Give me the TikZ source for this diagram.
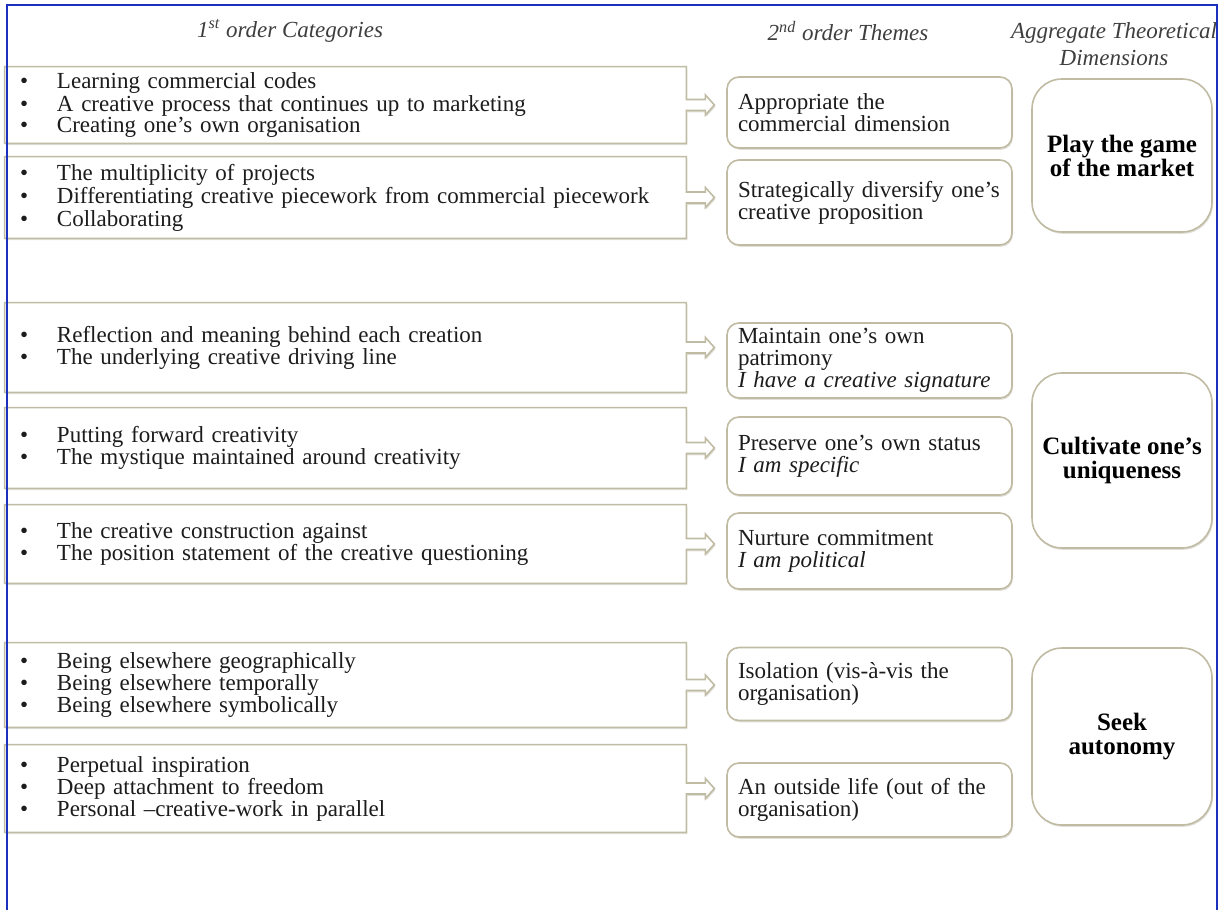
\documentclass[tikz,border=0pt]{standalone}
\usepackage{fontspec}
\setmainfont{Liberation Serif}
\usepackage{tikz}
\usetikzlibrary{calc}
\usetikzlibrary{backgrounds,shadows}
\definecolor{boxline}{RGB}{192,187,163}
\definecolor{frameblue}{RGB}{28,48,190}
\definecolor{inktext}{RGB}{28,28,28}
\tikzstyle{softshadow}=[drop shadow={shadow xshift=0.5pt,shadow yshift=-0.9pt,fill=boxline!80!black,opacity=0.3}]
\tikzstyle{heading}=[font=\itshape\fontsize{11.5}{13.5}\selectfont,text=inktext!85,inner sep=0pt]
\tikzstyle{catbox}=[inner xsep=7.5pt,inner ysep=0pt,text width=325.5pt,minimum width=340.5pt,align=left,font=\fontsize{11.5}{11}\selectfont,text=inktext]
\tikzstyle{catline}=[solid,draw=boxline,fill=white,line width=0.8pt,softshadow]
\tikzstyle{themebox}=[draw=boxline,fill=white,line width=0.8pt,rounded corners=6pt,softshadow,inner xsep=5.5pt,inner ysep=0pt,text width=131.5pt,minimum width=142.5pt,align=left,font=\fontsize{11.5}{11}\selectfont,text=inktext]
\tikzstyle{dimbox}=[draw=boxline,fill=white,line width=0.8pt,rounded corners=15pt,softshadow,inner sep=0pt,minimum width=90pt,align=center,font=\bfseries\fontsize{12.5}{12}\selectfont,text=black]
\tikzstyle{frameline}=[draw=frameblue,line width=1.4pt]
\newcommand{\bul}{\makebox[18.5pt][l]{\textbullet}}
\newcommand{\catoutline}[1]{%
  \path[catline] (#1.south west) -- (#1.north west) -- (#1.north east)
    -- ($(#1.east)+(0,-5.5)$) -- ++(19,0) -- ++(0,-4.5) -- ++(9,10)
    -- ++(-9,10) -- ++(0,-4.5) -- ++(-19,0) -- (#1.south east) -- cycle;}

\begin{document}
\begin{tikzpicture}[x=0.5pt,y=-0.5pt]
	\useasboundingbox (0,0) rectangle (1224,910);
	% column headings
	\node[heading] (h1) at (290,31) {1\textsuperscript{st} order Categories};
	\node[heading] (h2) at (848,31) {2\textsuperscript{nd} order Themes};
	\node[heading,align=center] (h3) at (1114,44) {Aggregate Theoretical\\Dimensions};
	% 1st order categories
	\node[catbox,minimum height=38pt,font=\fontsize{11.5}{10.3}\selectfont] (c1) at (345.5,105) {\bul Learning commercial codes\\\bul A creative process that continues up to marketing\\\bul Creating one's own organisation};
	\node[catbox,minimum height=40.5pt,font=\fontsize{11.5}{10.3}\selectfont] (c2) at (345.5,197.5) {\bul The multiplicity of projects\\\bul Differentiating creative piecework from commercial piecework\\\bul Collaborating};
	\node[catbox,minimum height=44.5pt] (c3) at (345.5,347.5) {\bul Reflection and meaning behind each creation\\\bul The underlying creative driving line};
	\node[catbox,minimum height=40pt] (c4) at (345.5,448) {\bul Putting forward creativity\\\bul The mystique maintained around creativity};
	\node[catbox,minimum height=39pt] (c5) at (345.5,544) {\bul The creative construction against\\\bul The position statement of the creative questioning};
	\node[catbox,minimum height=42pt] (c6) at (345.5,685) {\bul Being elsewhere geographically\\\bul Being elsewhere temporally\\\bul Being elsewhere symbolically};
	\node[catbox,minimum height=43.5pt] (c7) at (345.5,788.5) {\bul Perpetual inspiration\\\bul Deep attachment to freedom\\\bul Personal --creative-work in parallel};
	\begin{scope}[on background layer]
		\catoutline{c1}
		\catoutline{c2}
		\catoutline{c3}
		\catoutline{c4}
		\catoutline{c5}
		\catoutline{c6}
		\catoutline{c7}
	\end{scope}
	% 2nd order themes
	\node[themebox,minimum height=35.5pt] (t1) at (869.5,112.5) {Appropriate the\\commercial dimension};
	\node[themebox,minimum height=42.5pt] (t2) at (869.5,202.5) {Strategically diversify one's\\creative proposition};
	\node[themebox,minimum height=37.5pt] (t3) at (869.5,360.5) {Maintain one's own\\patrimony\\\textit{I have a creative signature}};
	\node[themebox,minimum height=39pt] (t4) at (869.5,456) {Preserve one's own status\\\textit{I am specific}};
	\node[themebox,minimum height=38pt] (t5) at (869.5,551) {Nurture commitment\\\textit{I am political}};
	\node[themebox,minimum height=36.5pt] (t6) at (869.5,684) {Isolation (vis-à-vis the\\organisation)};
	\node[themebox,minimum height=37pt] (t7) at (869.5,800) {An outside life (out of the\\organisation)};
	% aggregate dimensions
	\node[dimbox,minimum height=76.5pt] (d1) at (1122,155.5) {Play the game\\of the market};
	\node[dimbox,minimum height=87.5pt] (d2) at (1122,460.5) {Cultivate one's\\uniqueness};
	\node[dimbox,minimum height=88.5pt] (d3) at (1122,736.5) {Seek\\autonomy};
	% frame
	\path[frameline] (7,910) -- (7,5) -- (1217,5) -- (1217,910);
\end{tikzpicture}
\end{document}
